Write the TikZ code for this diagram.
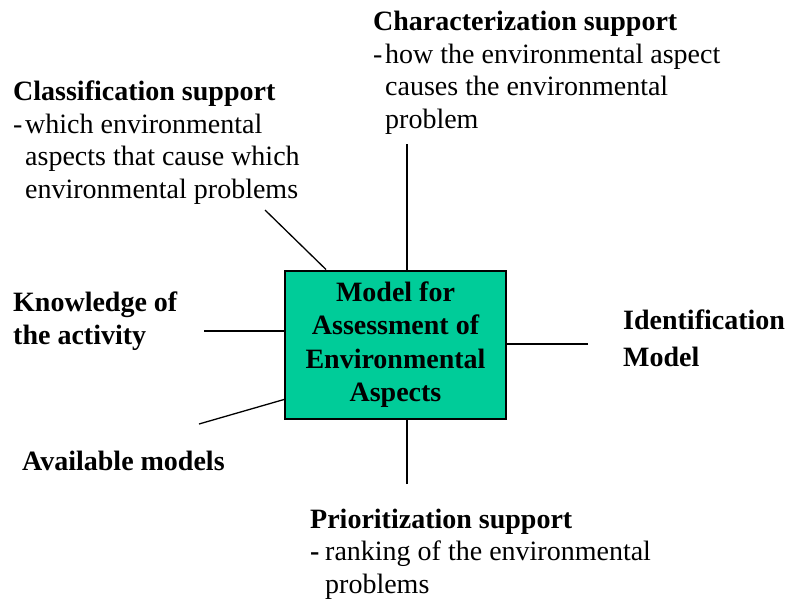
\documentclass[tikz,border=0pt]{standalone}
\usepackage{fontspec}
\setmainfont{Liberation Serif}
\usetikzlibrary{positioning, calc}
\definecolor{cBox}{RGB}{0,204,153}
\tikzset{
	modbox/.style={rectangle, draw=black, line width=2pt, fill=cBox, minimum width=221pt, minimum height=148pt, align=center, inner sep=0pt, font=\bfseries\fontsize{28}{33.3}\selectfont},
	lbl/.style   ={anchor=base west, align=left, inner sep=0pt, font=\fontsize{28}{32.5}\selectfont},
	conn/.style  ={line width=1.3pt, black},
}

\begin{document}
\begin{tikzpicture}[x=1pt, y=-1pt]
	\useasboundingbox (0,0) rectangle (790,603);
	\node[modbox] (mod) at (395.5,344.5) {Model for\\Assessment of\\Environmental\\Aspects};
	% labels round the model (placed at the baseline of their last line)
	\node[lbl] (chr) at (373,128)
	{\textbf{Characterization support}\\
		\makebox[12pt][l]{-}how the environmental aspect\\
		\hspace*{12pt}causes the environmental\\
		\hspace*{12pt}problem};
	\node[lbl] (cls) at (13,198)
	{\textbf{Classification support}\\
		\makebox[12pt][l]{-}which environmental\\
		\hspace*{12pt}aspects that cause which\\
		\hspace*{12pt}environmental problems};
	\node[lbl, font=\bfseries\fontsize{28}{33}\selectfont] (know) at (13,344) {Knowledge of\\the activity};
	\node[lbl, font=\bfseries\fontsize{28}{37}\selectfont] (ident) at (623,366) {Identification\\Model};
	\node[lbl, font=\bfseries\fontsize{28}{33}\selectfont] (avail) at (22,470) {Available models};
	\node[lbl] (prio) at (310,593)
	{\textbf{Prioritization support}\\
		\makebox[15pt][l]{\textbf{-}}ranking of the environmental\\
		\hspace*{15pt}problems};
	% free ends of the connectors
	\coordinate (chr-end) at (407,144);
	\coordinate (cls-end) at (265,210);
	\coordinate (know-end) at (204,331);
	\coordinate (avail-end) at (199,424);
	\coordinate (ident-end) at (588,344);
	\coordinate (prio-end) at (407,484);
	\draw[conn] (chr-end) -- (chr-end |- mod.north);
	\draw[conn] (cls-end) -- ($(mod.north west)+(42,0)$);
	\draw[conn] (know-end) -- (know-end -| mod.west);
	\draw[conn] (avail-end) -- ($(mod.south west)+(0,-20)$);
	\draw[conn] (ident-end) -- (ident-end -| mod.east);
	\draw[conn] (prio-end) -- (prio-end |- mod.south);
\end{tikzpicture}
\end{document}
